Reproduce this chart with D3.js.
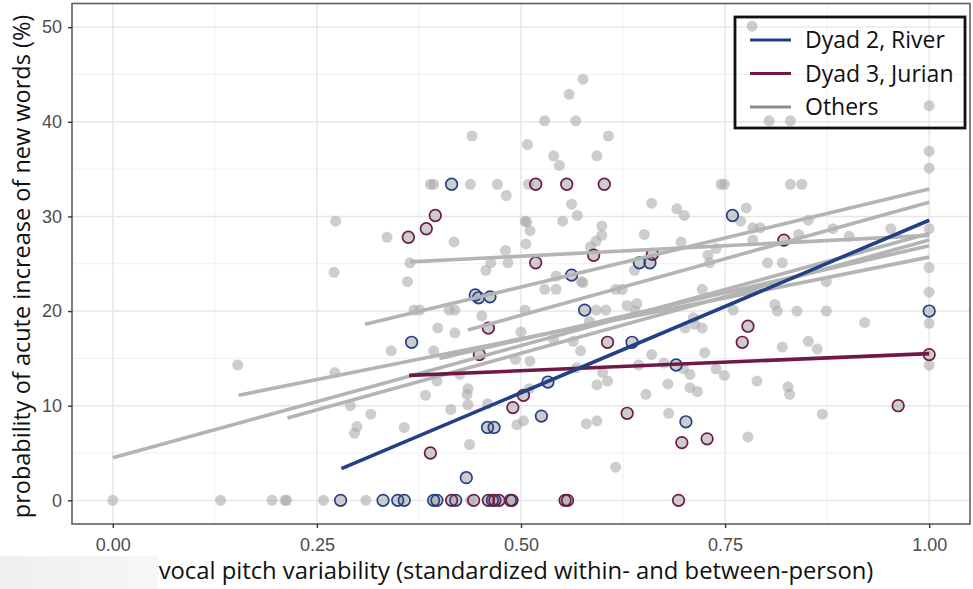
<!DOCTYPE html>
<html>
<head>
<meta charset="utf-8">
<script src="https://cdn.jsdelivr.net/npm/d3@7"></script>
<style>
  body { margin: 0; background: #fff; }
  svg { display: block; }
</style>
</head>
<body>
<div id="chart"></div>
<script>
// axis ticks
const xTicks = [0, 0.25, 0.5, 0.75, 1];
const yTicks = [0, 10, 20, 30, 40, 50];
const xMinor = [0.125, 0.375, 0.625, 0.875];
const yMinor = [5, 15, 25, 35, 45];

// Dyad 2, River  [x, y]
const riverPoints = [
  [0.279, 0], [0.331, 0], [0.349, 0], [0.357, 0], [0.393, 0], [0.397, 0], [0.420, 0], [0.465, 0], [0.487, 0],
  [0.366, 16.7], [0.415, 33.4], [0.433, 2.4], [0.444, 21.7], [0.448, 21.4], [0.462, 21.5], [0.459, 7.7],
  [0.467, 7.7], [0.525, 8.9], [0.533, 12.5], [0.562, 23.8], [0.578, 20.1], [0.636, 16.7], [0.645, 25.1],
  [0.658, 25.1], [0.690, 14.3], [0.702, 8.3], [0.759, 30.1], [1.0, 20.0]
];

// Dyad 3, Jurian  [x, y]
const jurianPoints = [
  [0.415, 0], [0.442, 0], [0.460, 0], [0.468, 0], [0.473, 0], [0.489, 0], [0.554, 0], [0.557, 0], [0.693, 0],
  [0.362, 27.8], [0.384, 28.7], [0.389, 5.0], [0.395, 30.1], [0.449, 15.4], [0.460, 18.2], [0.490, 9.8],
  [0.503, 11.1], [0.518, 33.4], [0.518, 25.1], [0.556, 33.4], [0.589, 25.9], [0.602, 33.4], [0.606, 16.7],
  [0.630, 9.2], [0.661, 26.0], [0.697, 6.1], [0.728, 6.5], [0.771, 16.7], [0.778, 18.4], [0.822, 27.5],
  [0.962, 10.0], [1.0, 15.4]
];

// all other children  [x, y]
const otherPoints = [
  [0.0, 0], [0.132, 0], [0.195, 0], [0.211, 0], [0.213, 0], [0.258, 0], [0.310, 0], [0.438, 0],
  [0.153, 14.3], [0.271, 24.1], [0.273, 29.5], [0.272, 13.5], [0.291, 10.0], [0.316, 9.1], [0.299, 7.8],
  [0.296, 7.1], [0.336, 27.8], [0.341, 15.8], [0.357, 7.7], [0.361, 23.1], [0.364, 25.1], [0.369, 20.1],
  [0.376, 20.1], [0.383, 11.1], [0.389, 33.4], [0.393, 33.4], [0.393, 15.8], [0.397, 12.6], [0.398, 18.2],
  [0.412, 20.1], [0.419, 20.1], [0.414, 9.6], [0.418, 27.3], [0.419, 17.7], [0.425, 13.3], [0.435, 11.8],
  [0.434, 11.2], [0.435, 10.1], [0.437, 5.9], [0.438, 33.4], [0.440, 38.5], [0.452, 19.5], [0.457, 24.3],
  [0.459, 10.2], [0.463, 25.1], [0.471, 33.4], [0.481, 26.4], [0.482, 32.2], [0.484, 25.1], [0.493, 14.9],
  [0.495, 8.0], [0.503, 8.4], [0.500, 17.8], [0.505, 20.1], [0.505, 29.5], [0.507, 29.4], [0.506, 27.1],
  [0.508, 37.6], [0.509, 33.4], [0.510, 11.8], [0.511, 28.5], [0.511, 14.7], [0.529, 40.1], [0.529, 22.3],
  [0.540, 36.4], [0.540, 17.0], [0.543, 23.7], [0.543, 22.3], [0.547, 35.4], [0.551, 29.5], [0.559, 42.9],
  [0.562, 31.3], [0.564, 16.8], [0.567, 40.1], [0.568, 14.0], [0.569, 30.1], [0.573, 15.8], [0.574, 23.1],
  [0.576, 23.0], [0.576, 44.5], [0.580, 8.1], [0.584, 18.9], [0.585, 26.8], [0.592, 27.4], [0.592, 20.1],
  [0.593, 8.4], [0.593, 12.2], [0.593, 36.4], [0.599, 29.0], [0.599, 28.0], [0.600, 13.5], [0.604, 20.1],
  [0.606, 12.6], [0.607, 38.5], [0.616, 22.3], [0.616, 3.5], [0.624, 22.3], [0.630, 20.6], [0.639, 24.3],
  [0.640, 20.0], [0.642, 20.8], [0.644, 14.3], [0.651, 28.1], [0.653, 11.2], [0.660, 31.4], [0.660, 15.4],
  [0.675, 14.5], [0.680, 12.3], [0.681, 9.2], [0.691, 30.8], [0.696, 27.3], [0.699, 13.9], [0.700, 30.1],
  [0.701, 18.2], [0.707, 13.3], [0.707, 11.9], [0.711, 19.3], [0.713, 18.6], [0.716, 11.5], [0.722, 18.2],
  [0.722, 22.3], [0.725, 15.6], [0.729, 25.9], [0.731, 25.1], [0.739, 26.6], [0.739, 13.9], [0.745, 33.4],
  [0.749, 33.4], [0.749, 13.2], [0.760, 20.1], [0.769, 29.5], [0.776, 30.9], [0.778, 6.7], [0.783, 50.1],
  [0.784, 28.8], [0.784, 27.5], [0.789, 12.6], [0.793, 28.8], [0.802, 25.1], [0.804, 40.1], [0.811, 20.7],
  [0.814, 20.0], [0.820, 25.1], [0.820, 16.2], [0.827, 12.0], [0.829, 11.2], [0.830, 33.4], [0.830, 40.1],
  [0.838, 20.0], [0.840, 28.1], [0.844, 33.4], [0.852, 29.6], [0.852, 16.8], [0.863, 16.0], [0.869, 9.1],
  [0.874, 23.1], [0.874, 20.0], [0.882, 28.7], [0.902, 27.9], [0.921, 18.8], [0.953, 28.7], [1.0, 41.7],
  [1.0, 36.9], [1.0, 35.1], [1.0, 28.7], [1.0, 24.6], [1.0, 22.0], [1.0, 18.7], [1.0, 14.3]
];

// fitted lines  [x start, y start, x end, y end]
const riverFit = [0.280, 3.35, 1.0, 29.6];
const jurianFit = [0.363, 13.2, 1.0, 15.5];
const otherFits = [
  [0.000, 4.5, 1.0, 28.2],
  [0.154, 11.1, 1.0, 25.7],
  [0.214, 8.7, 1.0, 27.5],
  [0.309, 18.6, 1.0, 32.9],
  [0.364, 25.2, 1.0, 28.0],
  [0.435, 18.0, 1.0, 31.5],
  [0.400, 15.0, 1.0, 26.9]
];

const legendLabels = ["Dyad 2, River", "Dyad 3, Jurian", "Others"];

const BLUE = "#233f86";
const PURPLE = "#6e1946";
const GREY_LINE = "#b4b4b4";

const WIDTH = 973, HEIGHT = 589;
const PANEL = {LEFT: 72, RIGHT: 970, TOP: 3.5, BOTTOM: 524};

const svg = d3.select("#chart").append("svg")
  .attr("width", WIDTH)
  .attr("height", HEIGHT);

svg.append("rect").attr("width", WIDTH).attr("height", HEIGHT).attr("fill", "#fff");

// faint shading at the bottom left of the screenshot
const grad = svg.append("defs").append("linearGradient").attr("id", "shade");
grad.append("stop").attr("offset", "0%").attr("stop-color", "#efefef");
grad.append("stop").attr("offset", "100%").attr("stop-color", "#f7f7f7");
svg.append("rect").attr("x", 0).attr("y", 556).attr("width", 158).attr("height", 33).attr("fill", "url(#shade)");

const x = d3.scaleLinear().domain([-0.05, 1.05]).range([PANEL.LEFT, PANEL.RIGHT]);
const y = d3.scaleLinear().domain([-2.5, 52.5]).range([PANEL.BOTTOM, PANEL.TOP]);

const panel = svg.append("g");

// grid
panel.selectAll(".vminor").data(xMinor).join("line")
  .attr("x1", d => x(d)).attr("x2", d => x(d))
  .attr("y1", PANEL.TOP).attr("y2", PANEL.BOTTOM)
  .attr("stroke", "#f0f0f0").attr("stroke-width", 1);
panel.selectAll(".hminor").data(yMinor).join("line")
  .attr("y1", d => y(d)).attr("y2", d => y(d))
  .attr("x1", PANEL.LEFT).attr("x2", PANEL.RIGHT)
  .attr("stroke", "#f0f0f0").attr("stroke-width", 1);
panel.selectAll(".vmajor").data(xTicks).join("line")
  .attr("x1", d => x(d)).attr("x2", d => x(d))
  .attr("y1", PANEL.TOP).attr("y2", PANEL.BOTTOM)
  .attr("stroke", "#e6e6e6").attr("stroke-width", 1.4);
panel.selectAll(".hmajor").data(yTicks).join("line")
  .attr("y1", d => y(d)).attr("y2", d => y(d))
  .attr("x1", PANEL.LEFT).attr("x2", PANEL.RIGHT)
  .attr("stroke", "#e6e6e6").attr("stroke-width", 1.4);

// points
const allPoints = otherPoints.concat(riverPoints, jurianPoints);
panel.append("g").selectAll("circle").data(allPoints).join("circle")
  .attr("cx", d => x(d[0])).attr("cy", d => y(d[1]))
  .attr("r", 5.5)
  .attr("fill", "#a9a9a9").attr("fill-opacity", 0.58);

panel.append("g").selectAll("circle").data(riverPoints).join("circle")
  .attr("cx", d => x(d[0])).attr("cy", d => y(d[1]))
  .attr("r", 5.8).attr("fill", "none")
  .attr("stroke", BLUE).attr("stroke-width", 1.7);
panel.append("g").selectAll("circle").data(jurianPoints).join("circle")
  .attr("cx", d => x(d[0])).attr("cy", d => y(d[1]))
  .attr("r", 5.8).attr("fill", "none")
  .attr("stroke", PURPLE).attr("stroke-width", 1.7);

// fitted lines
panel.append("g").selectAll("line").data(otherFits).join("line")
  .attr("x1", d => x(d[0])).attr("y1", d => y(d[1]))
  .attr("x2", d => x(d[2])).attr("y2", d => y(d[3]))
  .attr("stroke", GREY_LINE).attr("stroke-width", 3.6);

panel.append("line")
  .attr("x1", x(jurianFit[0])).attr("y1", y(jurianFit[1]))
  .attr("x2", x(jurianFit[2])).attr("y2", y(jurianFit[3]))
  .attr("stroke", PURPLE).attr("stroke-width", 3.6);
panel.append("line")
  .attr("x1", x(riverFit[0])).attr("y1", y(riverFit[1]))
  .attr("x2", x(riverFit[2])).attr("y2", y(riverFit[3]))
  .attr("stroke", BLUE).attr("stroke-width", 3.6);

// panel border
svg.append("rect")
  .attr("x", PANEL.LEFT).attr("y", PANEL.TOP)
  .attr("width", PANEL.RIGHT - PANEL.LEFT).attr("height", PANEL.BOTTOM - PANEL.TOP)
  .attr("fill", "none").attr("stroke", "#5f5f5f").attr("stroke-width", 1.6);

// axes
const yAxis = svg.append("g")
  .attr("transform", `translate(${PANEL.LEFT},0)`)
  .call(d3.axisLeft(y).tickValues(yTicks).tickFormat(d3.format("d")).tickSize(4).tickPadding(6));
const xAxis = svg.append("g")
  .attr("transform", `translate(0,${PANEL.BOTTOM})`)
  .call(d3.axisBottom(x).tickValues(xTicks).tickFormat(d3.format(".2f")).tickSize(4).tickPadding(10));

[xAxis, yAxis].forEach(ax => {
  ax.select(".domain").remove();
  ax.selectAll(".tick line").attr("stroke", "#333").attr("stroke-width", 1.4);
  ax.selectAll(".tick text")
    .attr("fill", "#4d4d4d")
    .style("font-family", "'Liberation Sans', Arial, sans-serif")
    .style("font-size", "18px");
});

// axis titles
svg.append("text")
  .attr("x", 516).attr("y", 579)
  .attr("text-anchor", "middle")
  .style("font-family", "'Open Sans', sans-serif")
  .style("font-size", "23.8px")
  .attr("fill", "#111")
  .text("vocal pitch variability (standardized within- and between-person)");

svg.append("text")
  .attr("transform", "translate(30,266.5) rotate(-90)")
  .attr("text-anchor", "middle")
  .style("font-family", "'Open Sans', sans-serif")
  .style("font-size", "23.5px")
  .attr("fill", "#111")
  .text("probability of acute increase of new words (%)");

// legend
const legend = svg.append("g").attr("transform", "translate(735,17)");
legend.append("rect")
  .attr("width", 230).attr("height", 111)
  .attr("fill", "none").attr("stroke", "#111").attr("stroke-width", 2.8);
const legendColors = [BLUE, PURPLE, "#8c8c8c"];
const rows = legend.selectAll(".row").data(legendLabels).join("g")
  .attr("transform", (d, i) => `translate(0,${23 + i * 33.5})`);
rows.append("line")
  .attr("x1", 15).attr("x2", 56)
  .attr("stroke", (d, i) => legendColors[i]).attr("stroke-width", 3.2);
rows.append("text")
  .attr("x", 70).attr("y", 8)
  .style("font-family", "'Open Sans', sans-serif")
  .style("font-size", "23px")
  .attr("fill", "#111")
  .text(d => d);
</script>
</body>
</html>
